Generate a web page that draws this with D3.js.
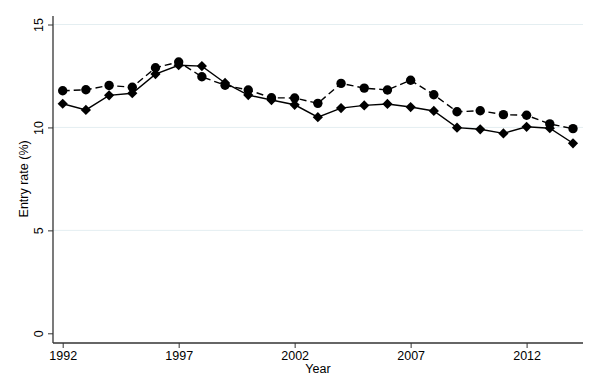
<!DOCTYPE html>
<html lang="en">
<head>
<meta charset="UTF-8">
<title>Entry rate</title>
<script src="https://cdn.jsdelivr.net/npm/d3@7"></script>
<style>
body { margin: 0; background: #fff; }
text { font-family: 'Liberation Sans', Arial, sans-serif; fill: #000; }
</style>
</head>
<body>
<div id="chart"></div>
<script>
// Data
const years = d3.range(1992, 2015);
const seriesCircle = [11.78, 11.83, 12.04, 11.95, 12.90, 13.18, 12.46, 12.05, 11.82, 11.44, 11.43, 11.17,
    12.14, 11.91, 11.82, 12.29, 11.59, 10.76, 10.81, 10.62, 10.59, 10.17, 9.94];
const seriesDiamond = [11.15, 10.85, 11.56, 11.66, 12.59, 13.02, 12.98, 12.16, 11.57, 11.33, 11.10, 10.50,
    10.94, 11.07, 11.14, 10.99, 10.80, 9.99, 9.91, 9.71, 10.03, 9.96, 9.23];
const xTicks = [1992, 1997, 2002, 2007, 2012];
const yTicks = [0, 5, 10, 15];

const width = 598, height = 375;
const svg = d3.select("#chart").append("svg")
    .attr("width", width).attr("height", height);

const x = d3.scaleLinear().domain([1992, 2014]).range([62.7, 573]);
const y = d3.scaleLinear().domain([0, 15]).range([333.3, 24.5]);
const plotLeft = 53, plotRight = 583, plotBottom = 343;

// gridlines
svg.append("g").selectAll("line")
    .data(yTicks.filter(d => d > 0))
    .enter().append("line")
    .attr("x1", plotLeft).attr("x2", plotRight)
    .attr("y1", d => y(d)).attr("y2", d => y(d))
    .attr("stroke", "#e4eef1").attr("stroke-width", 1);

// y axis
const yAxis = svg.append("g")
    .attr("transform", `translate(${plotLeft},0)`)
    .call(d3.axisLeft(y).tickValues(yTicks).tickSize(5).tickPadding(0).tickFormat(d3.format("d")));
yAxis.select(".domain").attr("d", `M0,16V${plotBottom}`);
yAxis.selectAll(".tick text")
    .attr("x", 0).attr("y", 0).attr("dy", "0.35em")
    .attr("transform", "translate(-14,0) rotate(-90)")
    .attr("text-anchor", "middle")
    .style("font-size", "12.5px");

// x axis
const xAxis = svg.append("g")
    .attr("transform", `translate(0,${plotBottom})`)
    .call(d3.axisBottom(x).tickValues(xTicks).tickSize(5).tickPadding(3).tickFormat(d3.format("d")));
xAxis.select(".domain").attr("d", `M${plotLeft},0H${plotRight}`);
xAxis.selectAll("text").style("font-size", "12.5px");

svg.selectAll(".domain").attr("stroke", "#333").attr("stroke-width", 1.3);
svg.selectAll(".tick line").attr("stroke", "#333").attr("stroke-width", 1);

// axis titles
svg.append("text")
    .attr("x", (plotLeft + plotRight) / 2).attr("y", 373)
    .attr("text-anchor", "middle").style("font-size", "12.5px")
    .text("Year");
svg.append("text")
    .attr("transform", `translate(27.5,${(24.5 + 333.3) / 2}) rotate(-90)`)
    .attr("text-anchor", "middle").style("font-size", "12.5px")
    .text("Entry rate (%)");

// lines
const line = d3.line().x((d, i) => x(years[i])).y(d => y(d));

svg.append("path")
    .datum(seriesCircle)
    .attr("fill", "none").attr("stroke", "#000")
    .attr("stroke-width", 1.4).attr("stroke-dasharray", "7,4")
    .attr("d", line);

svg.append("path")
    .datum(seriesDiamond)
    .attr("fill", "none").attr("stroke", "#000")
    .attr("stroke-width", 1.4)
    .attr("d", line);

// markers
svg.append("g").selectAll("circle")
    .data(seriesCircle)
    .enter().append("circle")
    .attr("cx", (d, i) => x(years[i])).attr("cy", d => y(d))
    .attr("r", 4.7).attr("fill", "#000");

const diamond = d3.symbol().type(d3.symbolSquare).size(52);
svg.append("g").selectAll("path")
    .data(seriesDiamond)
    .enter().append("path")
    .attr("d", diamond)
    .attr("transform", (d, i) => `translate(${x(years[i])},${y(d)}) rotate(45)`)
    .attr("fill", "#000");
</script>
</body>
</html>
